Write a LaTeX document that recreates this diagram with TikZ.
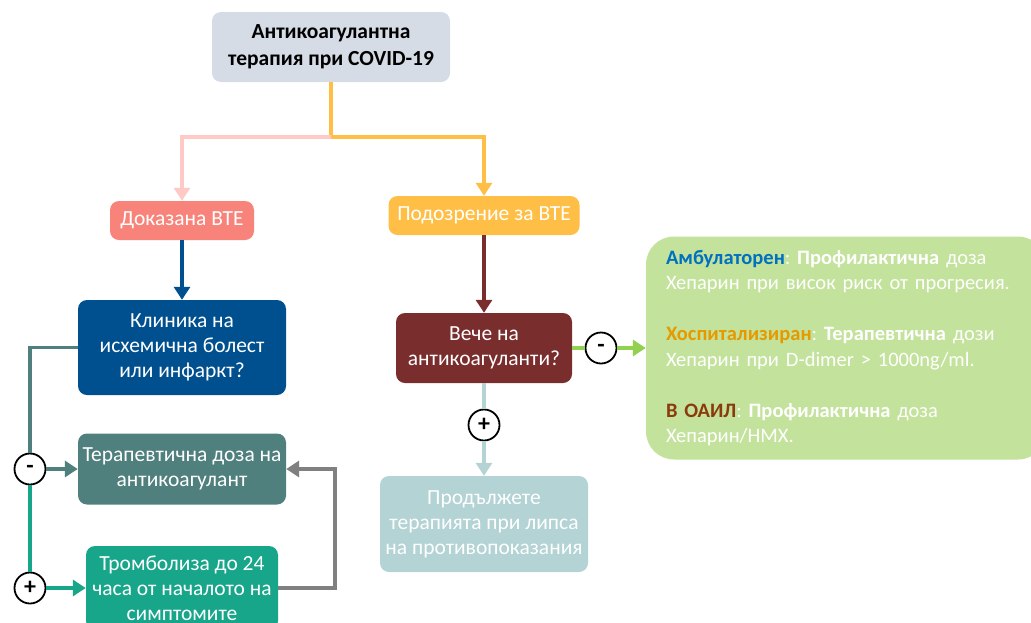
\documentclass[tikz,border=0pt]{standalone}
\usepackage{fontspec}
\setmainfont{Carlito}
\frenchspacing
\usetikzlibrary{arrows.meta,positioning}
\definecolor{titlegray}{HTML}{D6DCE5}
\definecolor{provenred}{HTML}{F8837A}
\definecolor{suspectorange}{HTML}{FFBF47}
\definecolor{clinicblue}{HTML}{00508F}
\definecolor{dosegray}{HTML}{4F807D}
\definecolor{lysisgreen}{HTML}{17A68A}
\definecolor{alreadyred}{HTML}{7A2D2D}
\definecolor{continueteal}{HTML}{B3D3D5}
\definecolor{regimegreen}{HTML}{C3E29B}
\definecolor{linkpink}{HTML}{FFCAC6}
\definecolor{linkgreen}{HTML}{92D050}
\definecolor{ambblue}{HTML}{0070C0}
\definecolor{hosporange}{HTML}{E69A00}
\definecolor{icubrown}{HTML}{8B3A0C}
\tikzset{
  box/.style={rounded corners=9pt, text=white, align=center, inner sep=0pt,
    font=\fontsize{21.5}{25}\selectfont},
  sign/.style={circle, draw=black, line width=1.8pt, fill=white, minimum size=31pt,
    inner sep=0pt, font=\fontsize{24}{24}\selectfont\bfseries},
  link/.style={line width=3.5pt, -{Triangle[width=16pt,length=13pt]}},
  plain/.style={line width=3.5pt}
}
\begin{document}
\begin{tikzpicture}[x=1pt,y=-1pt]
\useasboundingbox (0,0) rectangle (1031,622);
\node[box, fill=titlegray, text=black, font=\fontsize{21.5}{27}\selectfont\bfseries,
  minimum width=238pt, minimum height=70pt] (title) at (331,47) {Антикоагулантна\\терапия при COVID-19};
\node[box, fill=provenred, minimum width=144pt, minimum height=39pt] (proven) at (182,220.5) {Доказана ВТЕ};
\node[box, fill=suspectorange, minimum width=191pt, minimum height=39pt] (suspect) at (484,215.5) {Подозрение за ВТЕ};
\node[box, fill=clinicblue, minimum width=208pt, minimum height=95pt] (clinic) at (182,347.5) {Клиника на\\исхемична болест\\или инфаркт?};
\node[box, fill=dosegray, minimum width=208pt, minimum height=71pt] (dose) at (182,469) {Терапевтична доза на\\антикоагулант};
\node[box, fill=lysisgreen, minimum width=192pt, minimum height=84pt] (lysis) at (182,588) {Тромболиза до 24\\часа от началото на\\симптомите};
\node[box, fill=alreadyred, minimum width=176pt, minimum height=70pt] (already) at (484,348) {Вече на\\антикоагуланти?};
\node[box, fill=continueteal, minimum width=208pt, minimum height=96pt] (cont) at (484,524) {Продължете\\терапията при липса\\на противопоказания};
\node[box, fill=regimegreen, rounded corners=28pt, align=left, text width=360pt,
  inner xsep=20pt, minimum height=223pt, font=\fontsize{20.5}{25.5}\selectfont] (regime) at (846,348)
  {\textbf{\color{ambblue}Амбулаторен}: \textbf{Профилактична} доза\\Хепарин при висок риск от прогресия.\\[25.5pt]
   \textbf{\color{hosporange}Хоспитализиран}: \textbf{Терапевтична} дози\\Хепарин при D-dimer > 1000ng/ml.\\[25.5pt]
   \textbf{\color{icubrown}В ОАИЛ}: \textbf{Профилактична} доза\\Хепарин/НМХ.};
\coordinate (split) at (331,137);
\draw[link, draw=suspectorange] (title.south) -- (split) -| (suspect.north);
\draw[link, draw=linkpink] (split) -| (proven.north);
\draw[link, draw=clinicblue] (proven.south) -- (clinic.north);
\draw[link, draw=alreadyred] (suspect.south) -- (already.north);
\node[sign] (minusL) at (30,469) {-};
\node[sign] (plusL) at (30,588) {+};
\node[sign] (minusR) at (601,348) {-};
\node[sign] (plusR) at (484,425) {+};
\draw[plain, draw=dosegray] (clinic.west) -| (minusL.north);
\draw[link, draw=dosegray] (minusL.east) -- (dose.west);
\draw[plain, draw=lysisgreen] (minusL.south) -- (plusL.north);
\draw[link, draw=lysisgreen] (plusL.east) -- (lysis.west);
\draw[link, draw=gray] (lysis.east) -- ++(57,0) |- (dose.east);
\draw[plain, draw=linkgreen] (already.east) -- (minusR.west);
\draw[link, draw=linkgreen] (minusR.east) -- (regime.west);
\draw[plain, draw=continueteal] (already.south) -- (plusR.north);
\draw[link, draw=continueteal] (plusR.south) -- (cont.north);
\end{tikzpicture}
\end{document}
